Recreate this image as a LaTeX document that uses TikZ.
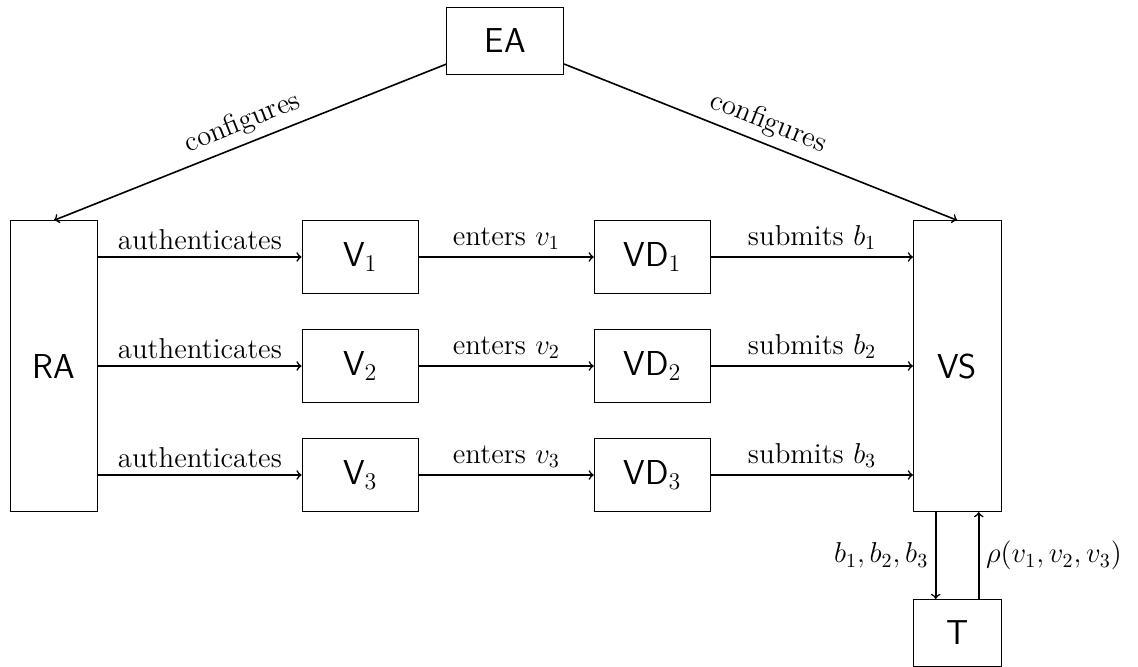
\RequirePackage{fix-cm}
\documentclass[tikz,border=0pt]{standalone}
\usepackage{fontspec}
\begin{document}
\begin{tikzpicture}[x=0.5pt,y=-0.5pt,
  box/.style={draw, line width=0.4pt, inner sep=0pt, font=\fontsize{17.28}{20}\selectfont\sffamily},
  vbox/.style={box, minimum width=58.35pt, minimum height=36.35pt},
  tall/.style={box, minimum width=43.85pt, minimum height=145.5pt},
  lbl/.style={font=\fontsize{14.4}{17}\selectfont},
  arr/.style={->, thick}]
\useasboundingbox (0,0) rectangle (1138,666);

\node[box, minimum width=58.5pt, minimum height=33.35pt] (EA) at (505.2,40.7) {EA};
\node[tall] (RA) at (54,366.2) {RA};
\node[tall] (VS) at (957.2,366.2) {VS};
\node[box, minimum width=43.75pt, minimum height=33.7pt] (T) at (957.2,633) {T};

\node[vbox] (V1) at (360.3,257) {V$_1$};
\node[vbox] (V2) at (360.3,366) {V$_2$};
\node[vbox] (V3) at (360.3,475) {V$_3$};
\node[vbox] (VD1) at (652.5,257) {VD$_1$};
\node[vbox] (VD2) at (652.5,366) {VD$_2$};
\node[vbox] (VD3) at (652.5,475) {VD$_3$};

\draw[arr] (EA) -- node[lbl, sloped, above] {configures} (RA.north);
\draw[arr] (EA) -- node[lbl, sloped, above] {configures} (VS.north);

\foreach \i in {1,2,3} {
  \draw[arr] (RA.east |- V\i) -- node[lbl, above] {authenticates} (V\i);
  \draw[arr] (V\i) -- node[lbl, above] {enters $v_\i$} (VD\i);
  \draw[arr] (VD\i) -- node[lbl, above] {submits $b_\i$} (VS.west |- VD\i);
}

\draw[arr] ([xshift=-10.75pt]VS.south) -- node[lbl, left] {$b_1, b_2, b_3$} ([xshift=-10.75pt]T.north);
\draw[arr] ([xshift=10.75pt]T.north) -- node[lbl, right] {$\rho(v_1, v_2, v_3)$} ([xshift=10.75pt]VS.south);
\end{tikzpicture}
\end{document}
